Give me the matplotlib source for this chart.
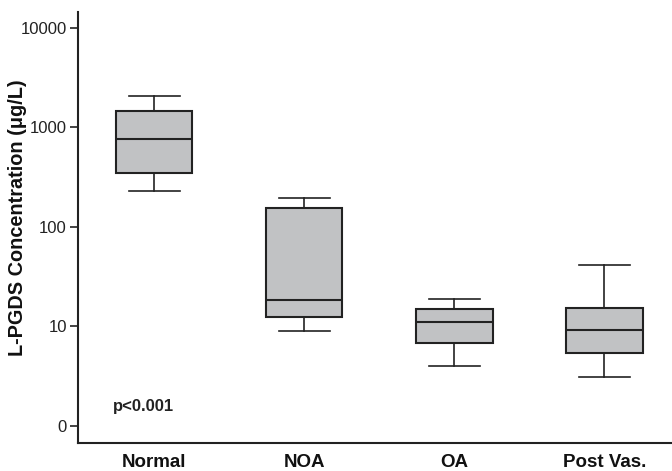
import matplotlib
matplotlib.use("Agg")
import matplotlib.pyplot as plt
from matplotlib.ticker import FixedLocator, NullLocator

plt.rcParams['font.family'] = ['Liberation Sans', 'DejaVu Sans']

groups = ['Normal', 'NOA', 'OA', 'Post Vas.']
whis_lo = [230, 9.0, 4.0, 3.07]
q1 = [349, 12.5, 6.8, 5.4]
medians = [759, 18.6, 11.0, 9.1]
q3 = [1472, 153, 15.1, 15.4]
whis_hi = [2080, 197, 18.8, 41.7]

ytick_vals = [1, 10, 100, 1000, 10000]
ytick_labels = ['0', '10', '100', '1000', '10000']

stats = []
for i, g in enumerate(groups):
    stats.append({'label': g, 'whislo': whis_lo[i], 'q1': q1[i], 'med': medians[i],
                  'q3': q3[i], 'whishi': whis_hi[i], 'fliers': []})

fig = plt.figure(figsize=(6.72, 4.71), dpi=100)
ax = fig.add_axes([0.116, 0.059, 0.884, 0.916])

edge = '#222222'
ax.bxp(stats, positions=range(1, 5), widths=0.507, capwidths=0.34, patch_artist=True,
       showfliers=False,
       boxprops=dict(facecolor='#c1c2c4', edgecolor=edge, linewidth=1.5),
       medianprops=dict(color=edge, linewidth=1.5),
       whiskerprops=dict(color=edge, linewidth=1.2),
       capprops=dict(color=edge, linewidth=1.2))

ax.set_yscale('log')
ax.set_ylim(0.67, 14500)
ax.set_xlim(0.49, 4.45)
ax.yaxis.set_major_locator(FixedLocator(ytick_vals))
ax.yaxis.set_minor_locator(NullLocator())
ax.set_yticklabels(ytick_labels, fontsize=12, color='#222222')
ax.set_xticks(range(1, 5))
ax.set_xticklabels(groups, fontsize=13.5, fontweight='bold', color='#111111')
ax.tick_params(axis='x', length=0, pad=8)
ax.tick_params(axis='y', length=6, width=1.2, color=edge, pad=2)

for s in ['top', 'right']:
    ax.spines[s].set_visible(False)
for s in ['left', 'bottom']:
    ax.spines[s].set_linewidth(1.5)
    ax.spines[s].set_color(edge)

fig.text(18 / 672, 1 - 218 / 471, 'L-PGDS Concentration (μg/L)', fontsize=14.3,
         fontweight='bold', color='#111111', rotation=90, ha='center', va='center')
ax.text(0.72, 1.55, 'p<0.001', fontsize=12, fontweight='bold', color='#222222',
        ha='left', va='center')

fig.savefig('out.png', dpi=100)
